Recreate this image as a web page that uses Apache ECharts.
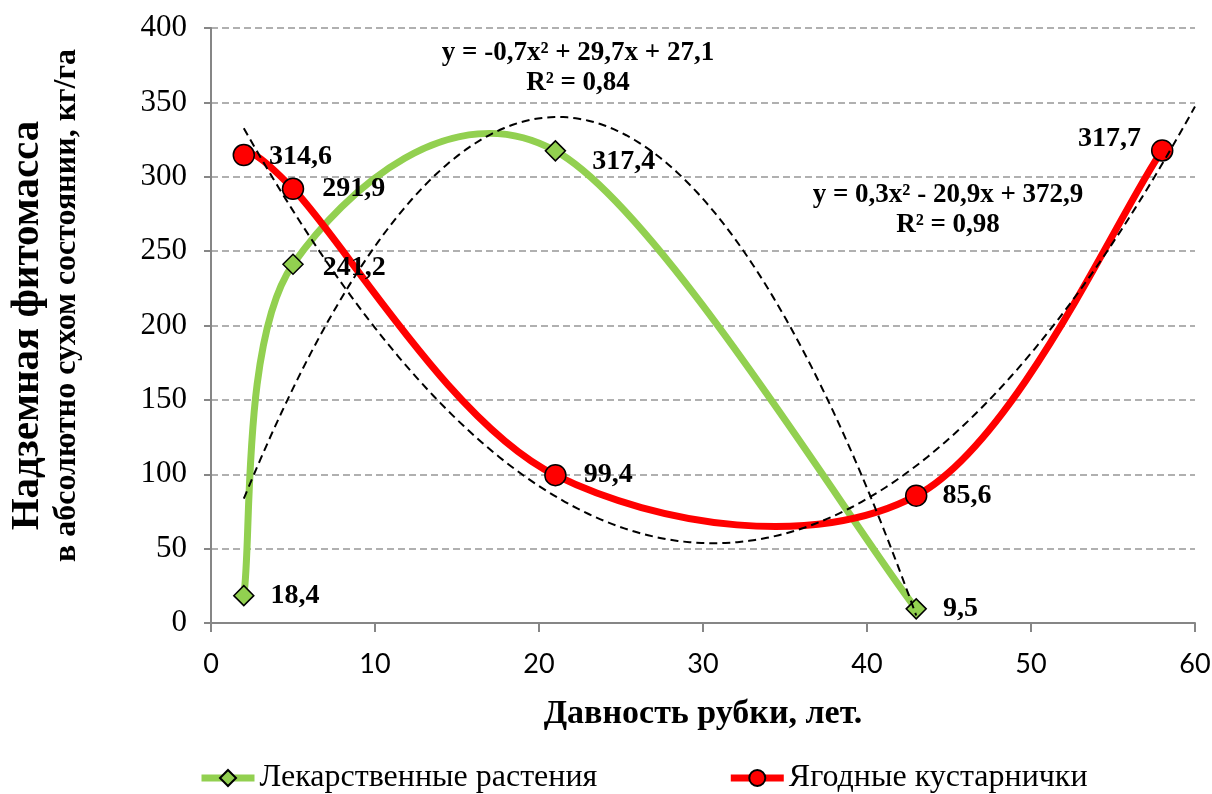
<!DOCTYPE html>
<html>
<head>
<meta charset="utf-8">
<script src="https://cdn.jsdelivr.net/npm/echarts@6/dist/echarts.min.js"></script>
<style>
  html, body { margin: 0; padding: 0; background: #fff; }
  #chart { width: 1212px; height: 794px; }
</style>
</head>
<body>
<div id="chart"></div>
<script>
// Лекарственные растения: давность рубки (лет) и фитомасса (кг/га)
const medicinalName = 'Лекарственные растения';
const medicinalAge = [2, 5, 21, 43];
const medicinalMass = [18.4, 241.2, 317.4, 9.5];

// Ягодные кустарнички
const berryName = 'Ягодные кустарнички';
const berryAge = [2, 5, 21, 43, 58];
const berryMass = [314.6, 291.9, 99.4, 85.6, 317.7];

// Полиномиальные линии тренда (2-й степени): подписи и диапазон по оси X
const medicinalTrendText = ['y = -0,7x² + 29,7x + 27,1', 'R² = 0,84'];
const berryTrendText = ['y = 0,3x² - 20,9x + 372,9', 'R² = 0,98'];
const medicinalTrendSpan = [2, 43];
const berryTrendSpan = [2, 60];

// Оси
const xRange = [0, 60, 10];
const yRange = [0, 400, 50];
const xTitle = 'Давность рубки, лет.';
const yTitle = ['Надземная фитомасса', 'в абсолютно сухом состоянии, кг/га'];

const SERIF = 'Liberation Serif';
const SANS = 'Lato';
const GREEN = '#92D050';
const RED = '#FF0000';

// Placement of value labels, point by point
const medicinalLabelPlacement = [
  { distance: 16 },
  { distance: 19, offset: [0, 4] },
  { distance: 26, offset: [0, 11] },
  { distance: 16 }
];
const berryLabelPlacement = [
  { distance: 14, offset: [0, 2] },
  { distance: 18 },
  { distance: 17 },
  { distance: 15 },
  { position: 'left', distance: 10, offset: [0, -12] }
];

// Least-squares fit y = a·x² + b·x + c
function fitQuadratic(xs, ys) {
  const s = [0, 0, 0, 0, 0], t = [0, 0, 0];
  xs.forEach((x, i) => {
    for (let k = 0; k < 5; k++) s[k] += Math.pow(x, k);
    for (let k = 0; k < 3; k++) t[k] += ys[i] * Math.pow(x, k);
  });
  const M = [
    [s[0], s[1], s[2], t[0]],
    [s[1], s[2], s[3], t[1]],
    [s[2], s[3], s[4], t[2]]
  ];
  for (let i = 0; i < 3; i++) {
    let p = i;
    for (let r = i + 1; r < 3; r++) if (Math.abs(M[r][i]) > Math.abs(M[p][i])) p = r;
    [M[i], M[p]] = [M[p], M[i]];
    for (let r = 0; r < 3; r++) {
      if (r === i) continue;
      const f = M[r][i] / M[i][i];
      for (let c = i; c < 4; c++) M[r][c] -= f * M[i][c];
    }
  }
  const c = M[0][3] / M[0][0], b = M[1][3] / M[1][1], a = M[2][3] / M[2][2];
  return x => a * x * x + b * x + c;
}

// Smoothed line through the points: one cubic Bézier per segment (Catmull-Rom tangents)
function smoothCurveSeries(xs, ys, color, width, z) {
  const n = xs.length;
  return {
    type: 'custom',
    silent: true,
    z: z,
    clip: false,
    data: xs.slice(0, -1).map((x, i) => [x, ys[i]]),
    encode: { x: 0, y: 1 },
    renderItem(params, api) {
      const i = params.dataIndex;
      const P = k => {
        const j = Math.max(0, Math.min(n - 1, k));
        return api.coord([xs[j], ys[j]]);
      };
      const p0 = P(i - 1), p1 = P(i), p2 = P(i + 1), p3 = P(i + 2);
      return {
        type: 'bezierCurve',
        shape: {
          x1: p1[0], y1: p1[1], x2: p2[0], y2: p2[1],
          cpx1: p1[0] + (p2[0] - p0[0]) / 6, cpy1: p1[1] + (p2[1] - p0[1]) / 6,
          cpx2: p2[0] - (p3[0] - p1[0]) / 6, cpy2: p2[1] - (p3[1] - p1[1]) / 6
        },
        style: { stroke: color, lineWidth: width, fill: null, lineCap: 'round' }
      };
    }
  };
}

// Dashed polynomial trend line
function trendSeries(xs, ys, span) {
  const f = fitQuadratic(xs, ys);
  return {
    type: 'custom',
    silent: true,
    z: 6,
    clip: false,
    data: [[span[0], f(span[0])]],
    encode: { x: 0, y: 1 },
    renderItem(params, api) {
      const pts = [];
      const steps = 160;
      for (let k = 0; k <= steps; k++) {
        const x = span[0] + (span[1] - span[0]) * k / steps;
        pts.push(api.coord([x, f(x)]));
      }
      return {
        type: 'polyline',
        shape: { points: pts },
        style: { stroke: '#000', lineWidth: 2, lineDash: [8, 5], fill: null }
      };
    }
  };
}

const fmt = v => v.toFixed(1).replace('.', ',');

function markerSeries(name, xs, ys, placement, symbol, size, color) {
  return {
    type: 'line',
    name: name,
    z: 5,
    data: xs.map((x, i) => ({ value: [x, ys[i]], label: placement[i] })),
    symbol: symbol,
    symbolSize: size,
    showAllSymbol: true,
    itemStyle: { color: color, borderColor: '#000', borderWidth: 1.5 },
    lineStyle: { color: color, width: 7, opacity: 0 },
    label: {
      show: true,
      position: 'right',
      formatter: p => fmt(p.value[1]),
      fontFamily: SERIF,
      fontWeight: 'bold',
      fontSize: 28,
      color: '#000'
    },
    emphasis: { disabled: true }
  };
}

const chart = echarts.init(document.getElementById('chart'), null, { renderer: 'canvas' });

chart.setOption({
  animation: false,
  backgroundColor: '#fff',
  grid: { left: 211, top: 28, right: 17, bottom: 171, containLabel: false, outerBoundsMode: 'none' },
  xAxis: {
    type: 'value',
    min: xRange[0], max: xRange[1], interval: xRange[2],
    name: xTitle,
    nameLocation: 'middle',
    nameGap: 74,
    nameTextStyle: { fontFamily: SERIF, fontWeight: 'bold', fontSize: 34, color: '#000' },
    axisLine: { lineStyle: { color: '#868686', width: 2 } },
    axisTick: { show: true, length: 9, lineStyle: { color: '#868686', width: 2 } },
    axisLabel: { fontFamily: SANS, fontSize: 27, color: '#000', margin: 28 },
    splitLine: { show: false }
  },
  yAxis: {
    type: 'value',
    min: yRange[0], max: yRange[1], interval: yRange[2],
    name: '{t1|' + yTitle[0] + '}\n{t2|' + yTitle[1] + '}',
    nameLocation: 'middle',
    nameRotate: 90,
    nameGap: 125,
    nameTextStyle: {
      color: '#000',
      align: 'center',
      rich: {
        t1: { fontFamily: SERIF, fontWeight: 'bold', fontSize: 41, lineHeight: 42, color: '#000' },
        t2: { fontFamily: SERIF, fontWeight: 'bold', fontSize: 32, lineHeight: 38, color: '#000', padding: [0, 0, 0, 40] }
      }
    },
    axisLine: { show: true, lineStyle: { color: '#868686', width: 2 } },
    axisTick: { show: true, length: 7, lineStyle: { color: '#868686', width: 2 } },
    axisLabel: { fontFamily: SERIF, fontSize: 31, color: '#000', margin: 24 },
    splitLine: { show: true, lineStyle: { color: '#979797', width: 1.5, type: [7, 4] } }
  },
  legend: {
    data: [medicinalName, berryName],
    left: 198,
    top: 762,
    padding: 0,
    itemGap: 130,
    itemWidth: 53,
    itemHeight: 20,
    textStyle: { fontFamily: SERIF, fontSize: 32, color: '#000' },
    lineStyle: { opacity: 1, width: 7 },
    selectedMode: false
  },
  graphic: [
    {
      type: 'text', x: 578, y: 68,
      style: {
        text: medicinalTrendText.join('\n'),
        fontFamily: SERIF, fontWeight: 'bold', fontSize: 27, lineHeight: 30,
        fill: '#000', align: 'center', verticalAlign: 'middle'
      }
    },
    {
      type: 'text', x: 948, y: 210,
      style: {
        text: berryTrendText.join('\n'),
        fontFamily: SERIF, fontWeight: 'bold', fontSize: 27, lineHeight: 30,
        fill: '#000', align: 'center', verticalAlign: 'middle'
      }
    }
  ],
  series: [
    smoothCurveSeries(medicinalAge, medicinalMass, GREEN, 7, 2),
    smoothCurveSeries(berryAge, berryMass, RED, 7, 3),
    markerSeries(medicinalName, medicinalAge, medicinalMass, medicinalLabelPlacement, 'diamond', 20, GREEN),
    markerSeries(berryName, berryAge, berryMass, berryLabelPlacement, 'circle', 21, RED),
    trendSeries(medicinalAge, medicinalMass, medicinalTrendSpan),
    trendSeries(berryAge, berryMass, berryTrendSpan)
  ]
});
</script>
</body>
</html>
